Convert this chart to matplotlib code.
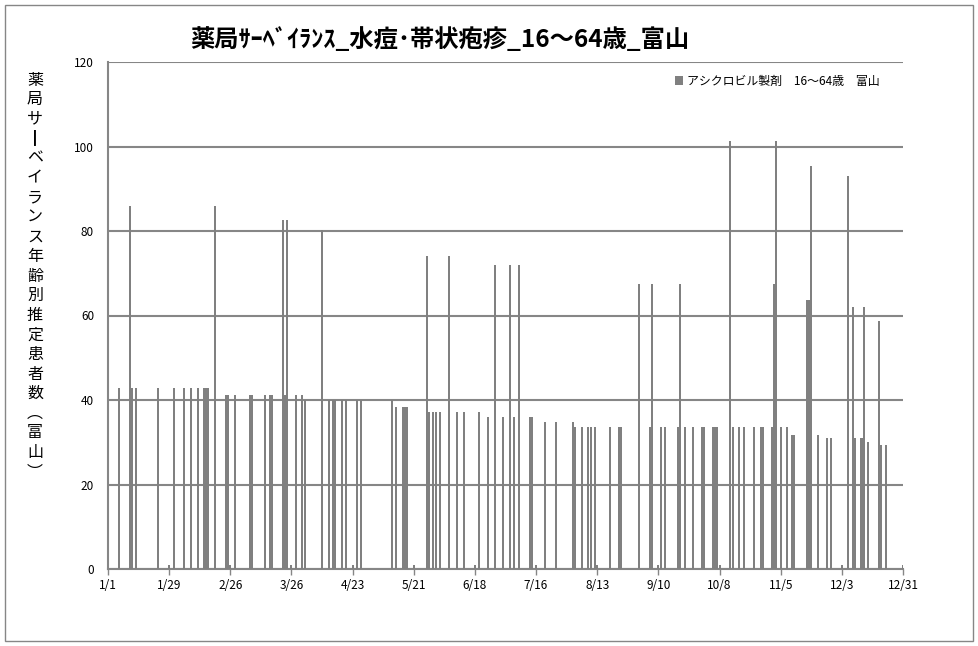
import matplotlib
matplotlib.use('Agg')
import matplotlib.pyplot as plt
from matplotlib.patches import Rectangle

plt.rcParams['font.family'] = ['Noto Sans CJK JP', 'DejaVu Sans']

# day of year (0 = 1/1) and estimated patients
days = [5, 10, 11, 13, 23, 28, 30, 35, 38, 41, 44, 45, 46, 49, 54, 55, 56, 58,
        65, 66, 72, 74, 75, 80, 81, 82, 84, 86, 89, 90, 98, 101, 103, 104, 107,
        109, 112, 114, 116, 130, 132, 135, 136, 137, 140, 146, 147, 149, 150,
        152, 156, 160, 163, 168, 170, 174, 177, 181, 184, 186, 188, 193, 194,
        196, 200, 205, 213, 214, 217, 220, 221, 223, 224, 230, 234, 235, 243,
        248, 249, 252, 253, 255, 261, 262, 264, 268, 272, 273, 277, 278, 279,
        280, 285, 286, 289, 291, 296, 299, 300, 304, 305, 306, 308, 311, 313,
        314, 320, 321, 322, 325, 329, 331, 336, 339, 341, 342, 345, 346, 348,
        353, 354, 356, 364]
values = [42.9, 85.8, 42.9, 42.9, 42.9, 1, 42.9, 42.9, 42.9, 42.9, 42.9, 42.9,
          42.9, 85.8, 41.2, 41.2, 1, 41.2, 41.2, 41.2, 41.2, 41.2, 41.2, 82.5,
          41.2, 82.5, 1, 41.2, 41.2, 40.1, 80.2, 40.1, 40.1, 40.1, 40.1, 40.1,
          1, 40.1, 40.1, 40.1, 38.3, 38.3, 38.3, 38.3, 1, 74.2, 37.1, 37.1,
          37.1, 37.1, 74.2, 37.1, 37.1, 1, 37.1, 36.0, 71.9, 36.0, 71.9, 36.0,
          71.9, 36.0, 36.0, 1, 34.8, 34.8, 34.8, 33.7, 33.7, 33.7, 33.7, 33.7,
          1, 33.7, 33.7, 33.7, 67.5, 33.7, 67.5, 1, 33.7, 33.7, 33.7, 67.5,
          33.7, 33.7, 33.7, 33.7, 33.7, 33.7, 33.7, 1, 101.2, 33.7, 33.7, 33.7,
          33.7, 33.7, 33.7, 33.7, 67.5, 101.2, 33.7, 33.7, 31.8, 31.8, 63.7,
          63.7, 95.5, 31.8, 31.0, 31.0, 1, 93.0, 62.0, 31.0, 31.0, 62.0, 30.0,
          58.7, 29.3, 29.3, 1]

tick_days = [0, 28, 56, 84, 112, 140, 168, 196, 224, 252, 280, 308, 336, 364]
tick_labels = ['1/1', '1/29', '2/26', '3/26', '4/23', '5/21', '6/18', '7/16',
               '8/13', '9/10', '10/8', '11/5', '12/3', '12/31']

title = '薬局ｻｰﾍﾞｲﾗﾝｽ_水痘･帯状疱疹_16～64歳_富山'
series_name = 'アシクロビル製剤　16～64歳　富山'
ylabel_chars = ['薬', '局', 'サ', '┃', 'ベ', 'イ', 'ラ', 'ン', 'ス', '年', '齢',
                '別', '推', '定', '患', '者', '数', '︵', '富', '山', '︶']

grey = '#808080'
grid_grey = '#868686'

fig = plt.figure(figsize=(9.79, 6.46), dpi=100)
ax = fig.add_axes([108 / 979, 1 - 569 / 646, 795 / 979, 507 / 646])

ax.bar(days, values, width=0.92, color=grey, linewidth=0, antialiased=False,
       label=series_name, zorder=3)

ax.set_xlim(0, 364)
ax.set_ylim(0, 120)
ax.set_yticks(range(0, 121, 20))
ax.set_xticks(tick_days)
ax.set_xticklabels(tick_labels)
ax.tick_params(axis='both', labelsize=8.5, colors='black', length=4,
               width=1, direction='out')
ax.tick_params(axis='x', colors=grid_grey, labelcolor='black')
ax.tick_params(axis='y', length=0, pad=10)

ax.grid(axis='y', color=grid_grey, linewidth=1.5, zorder=1)
ax.set_axisbelow(True)
for side in ['top', 'right']:
    ax.spines[side].set_visible(False)
ax.spines['left'].set_color(grid_grey)
ax.spines['left'].set_linewidth(1.5)
ax.spines['bottom'].set_color(grid_grey)
ax.spines['bottom'].set_linewidth(1.5)

fig.text(440 / 979, 1 - 40 / 646, title, fontsize=17.5, fontweight='bold',
         ha='center', va='center')

fig.text(35 / 979, 1 - 276 / 646, '\n'.join(ylabel_chars), fontsize=11.5,
         ha='center', va='center', linespacing=1.2)

leg = ax.legend(loc='upper right', bbox_to_anchor=(884 / 979, 1 - 70 / 646),
                bbox_transform=fig.transFigure, frameon=False, fontsize=8.6,
                handlelength=0.7, handleheight=0.7, handletextpad=0.3,
                borderaxespad=0)

fig.patches.append(Rectangle((5 / 979, 5 / 646), 968 / 979, 636 / 646,
                             transform=fig.transFigure, fill=False,
                             edgecolor=grid_grey, linewidth=1))

fig.savefig('out.png', dpi=100)
